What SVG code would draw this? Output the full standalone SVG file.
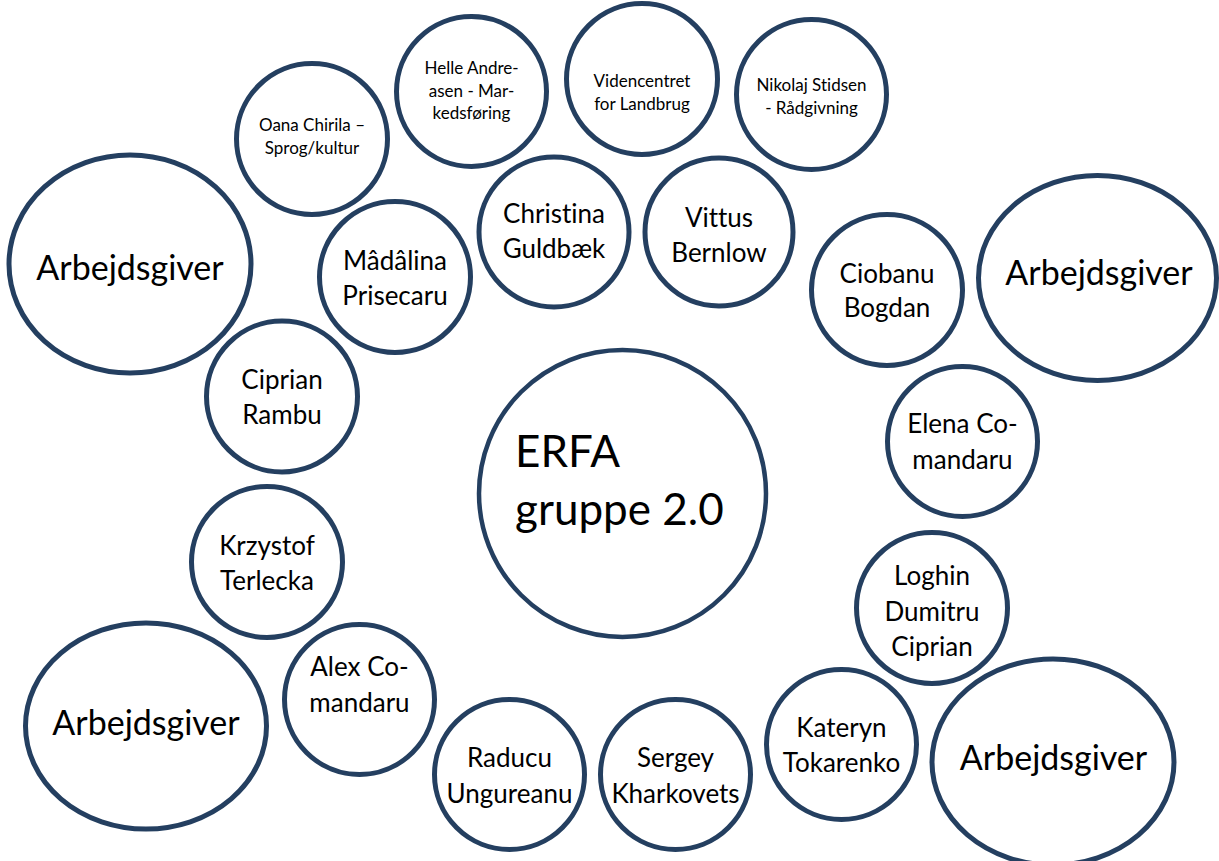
<svg xmlns="http://www.w3.org/2000/svg" width="1219" height="861" viewBox="0 0 1219 861">
<style>
.c{fill:#fff;stroke:#243F60;stroke-width:5}
.t{font-family:Lato,"Open Sans","Liberation Sans",sans-serif;fill:#000;text-anchor:middle;font-variant-ligatures:none;font-feature-settings:"liga" 0,"clig" 0,"dlig" 0}
.s{font-size:17px}
.m{font-size:26px}
.l{font-size:34px}
.x{font-size:44px;text-anchor:start}
</style>
<rect width="1219" height="861" fill="#fff"/>
<g id="connectors"></g>
<g id="n-arb-tl"><ellipse class="c" cx="130" cy="264" rx="121" ry="109"/><text class="t l" x="130" y="280">Arbejdsgiver</text></g>
<g id="n-oana"><circle class="c" cx="312" cy="139" r="75.5"/><text class="t s" x="312" y="131">Oana Chirila –</text><text class="t s" x="312" y="154">Sprog/kultur</text></g>
<g id="n-helle"><circle class="c" cx="471.5" cy="91.5" r="75"/><text class="t s" x="471.5" y="74">Helle Andre-</text><text class="t s" x="471.5" y="97">asen - Mar-</text><text class="t s" x="471.5" y="119">kedsføring</text></g>
<g id="n-viden"><circle class="c" cx="642" cy="79" r="75.5"/><text class="t s" x="642" y="87">Videncentret</text><text class="t s" x="642" y="110">for Landbrug</text></g>
<g id="n-nikolaj"><circle class="c" cx="811.5" cy="94.5" r="75"/><text class="t s" x="811.5" y="91">Nikolaj Stidsen</text><text class="t s" x="811.5" y="114">- Rådgivning</text></g>
<g id="n-madalina"><circle class="c" cx="395" cy="277" r="75.5"/><text class="t m" x="395" y="270">Mâdâlina</text><text class="t m" x="395" y="305">Prisecaru</text></g>
<g id="n-christina"><circle class="c" cx="554" cy="232" r="75"/><text class="t m" x="554" y="223">Christina</text><text class="t m" x="554" y="258">Guldbæk</text></g>
<g id="n-vittus"><circle class="c" cx="719" cy="232" r="74"/><text class="t m" x="719" y="227">Vittus</text><text class="t m" x="719" y="262">Bernlow</text></g>
<g id="n-ciobanu"><circle class="c" cx="887" cy="290" r="75.5"/><text class="t m" x="887" y="283">Ciobanu</text><text class="t m" x="887" y="317">Bogdan</text></g>
<g id="n-arb-tr"><ellipse class="c" cx="1097.5" cy="278" rx="119" ry="102.5"/><text class="t l" x="1099" y="285">Arbejdsgiver</text></g>
<g id="n-ciprian"><circle class="c" cx="282" cy="396.5" r="75.5"/><text class="t m" x="282" y="389">Ciprian</text><text class="t m" x="282" y="424">Rambu</text></g>
<g id="n-elena"><circle class="c" cx="962.5" cy="441.5" r="75"/><text class="t m" x="962.5" y="433">Elena Co-</text><text class="t m" x="962.5" y="469">mandaru</text></g>
<g id="n-erfa"><circle class="c" cx="622.5" cy="493.5" r="143.5" style="stroke-width:4.5"/><text class="t x" x="515" y="467">ERFA</text><text class="t x" x="515" y="525">gruppe 2.0</text></g>
<g id="n-krzystof"><circle class="c" cx="267" cy="562" r="75.5"/><text class="t m" x="267" y="555">Krzystof</text><text class="t m" x="267" y="590">Terlecka</text></g>
<g id="n-loghin"><circle class="c" cx="932" cy="608" r="75.5"/><text class="t m" x="932" y="585">Loghin</text><text class="t m" x="932" y="621">Dumitru</text><text class="t m" x="932" y="656">Ciprian</text></g>
<g id="n-alex"><circle class="c" cx="359.5" cy="699.5" r="75"/><text class="t m" x="359.5" y="676">Alex Co-</text><text class="t m" x="359.5" y="712">mandaru</text></g>
<g id="n-arb-bl"><ellipse class="c" cx="146" cy="726" rx="120.5" ry="103"/><text class="t l" x="146" y="735">Arbejdsgiver</text></g>
<g id="n-raducu"><circle class="c" cx="509.5" cy="774.5" r="75"/><text class="t m" x="509.5" y="767">Raducu</text><text class="t m" x="509.5" y="803">Ungureanu</text></g>
<g id="n-sergey"><circle class="c" cx="675.5" cy="774.5" r="75"/><text class="t m" x="675.5" y="767">Sergey</text><text class="t m" x="675.5" y="803">Kharkovets</text></g>
<g id="n-kateryn"><circle class="c" cx="841.5" cy="744.5" r="75"/><text class="t m" x="841.5" y="737">Kateryn</text><text class="t m" x="841.5" y="772">Tokarenko</text></g>
<g id="n-arb-br"><ellipse class="c" cx="1053" cy="762" rx="121" ry="103"/><text class="t l" x="1053.5" y="770">Arbejdsgiver</text></g>
</svg>
